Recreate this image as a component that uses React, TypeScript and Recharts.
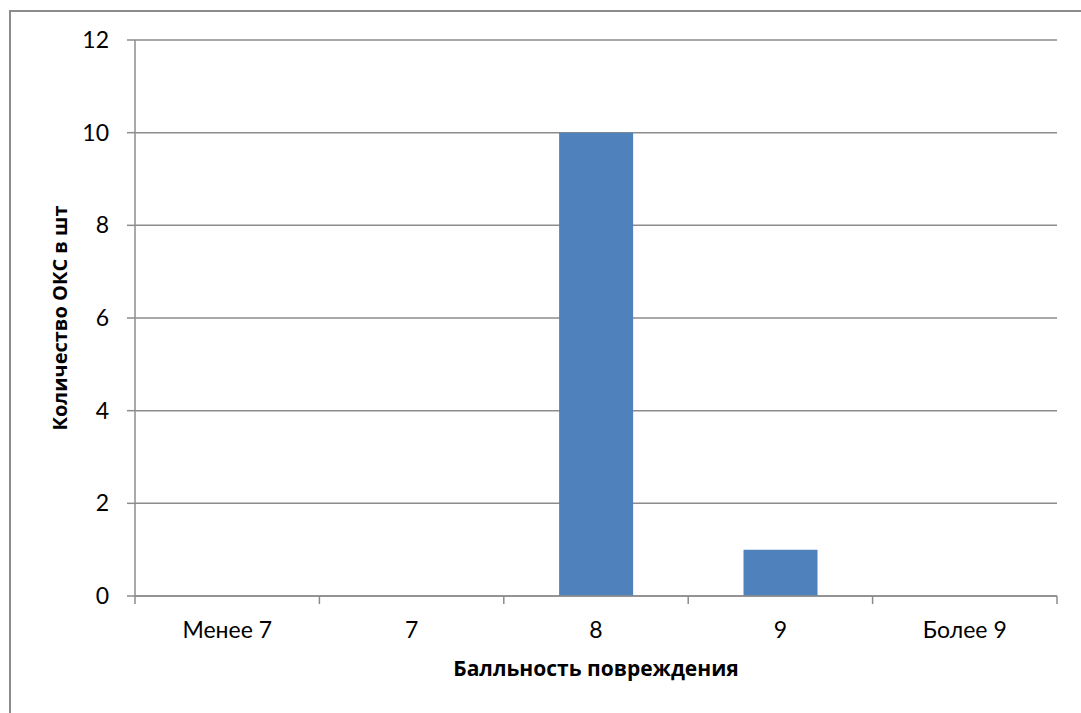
import { BarChart, Bar, XAxis, YAxis, CartesianGrid } from 'recharts'

const categories = ['Менее 7', '7', '8', '9', 'Более 9']
const counts = [0, 0, 10, 1, 0]
const yTicks = [0, 2, 4, 6, 8, 10, 12]

const data = categories.map((name, i) => ({ name, count: counts[i] }))

const GRAY = '#8c8c8c'
const FONT = 'Lato, "Noto Sans", sans-serif'
const LABEL_FONT = '"Open Sans", Lato, sans-serif'

function CategoryTick(props: any) {
  const { x, y, payload, index, width, visibleTicksCount } = props
  const band = (width || 922) / (visibleTicksCount || categories.length)
  const last = index === (visibleTicksCount || categories.length) - 1
  return (
    <g>
      <line x1={x - band / 2} x2={x - band / 2} y1={y} y2={y + 8} stroke={GRAY} strokeWidth={1.5} />
      {last && <line x1={x + band / 2} x2={x + band / 2} y1={y} y2={y + 8} stroke={GRAY} strokeWidth={1.5} />}
      <text x={x} y={y + 42} textAnchor="middle" fontSize={23} fill="#000" fontFamily={FONT}>
        {payload.value}
      </text>
    </g>
  )
}

export default function App() {
  return (
    <div style={{ position: 'absolute', left: 0, top: 0, width: 1081, height: 713, overflow: 'hidden', background: '#fff' }}>
      <div style={{ position: 'absolute', left: 9, top: 10, width: 1200, height: 1000, border: `2px solid ${GRAY}` }} />
      <div style={{ position: 'absolute', left: 0, top: 0 }}>
        <BarChart width={1081} height={713} data={data} margin={{ top: 40, right: 24, bottom: 10, left: 40 }} barCategoryGap="30%">
          <CartesianGrid vertical={false} stroke={GRAY} strokeWidth={1.5} />
          <XAxis
            dataKey="name"
            height={107}
            axisLine={{ stroke: GRAY, strokeWidth: 1.5 }}
            tickLine={false}
            tickSize={0}
            tickMargin={0}
            tick={<CategoryTick />}
            interval={0}
            label={{ value: 'Балльность повреждения', position: 'insideBottom', offset: 27, fontSize: 21, fontWeight: 700, fill: '#000', fontFamily: LABEL_FONT }}
          />
          <YAxis
            width={95}
            domain={[0, 12]}
            ticks={yTicks}
            interval={0}
            axisLine={{ stroke: GRAY, strokeWidth: 1.5 }}
            tickLine={{ stroke: GRAY, strokeWidth: 1.5 }}
            tickSize={8}
            tickMargin={18}
            tick={{ fontSize: 23, fill: '#000', fontFamily: FONT }}
            label={{ value: 'Количество ОКС в шт', angle: -90, position: 'insideLeft', offset: 20, fontSize: 20, fontWeight: 700, fill: '#000', fontFamily: LABEL_FONT, style: { textAnchor: 'middle' } }}
          />
          <Bar dataKey="count" fill="#4f81bd" isAnimationActive={false} />
        </BarChart>
      </div>
    </div>
  )
}
